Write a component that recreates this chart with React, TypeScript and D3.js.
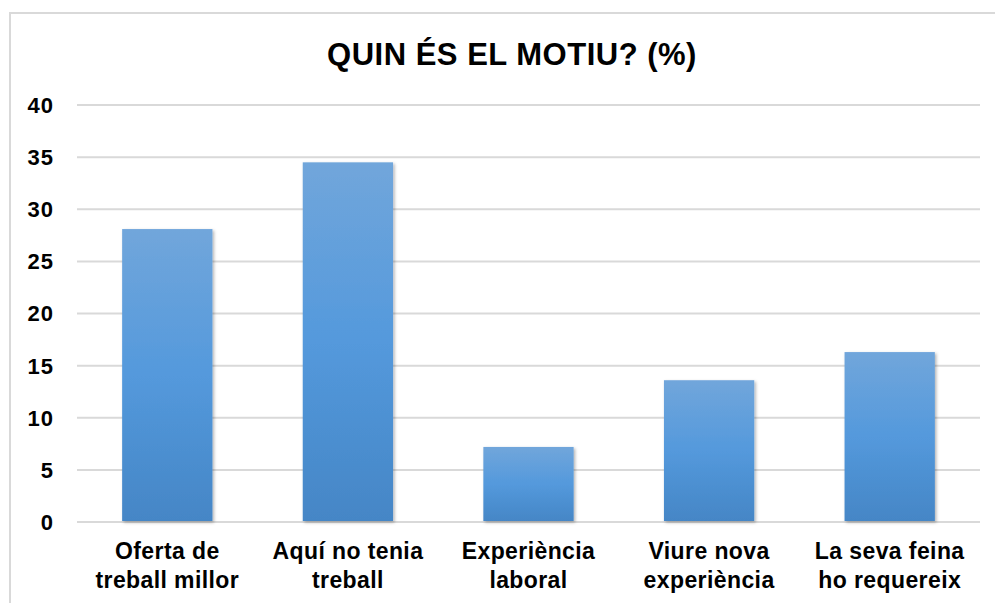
import React, { useEffect, useRef } from "react";
import * as d3 from "d3";

const categories = [
  ["Oferta de", "treball millor"],
  ["Aquí no tenia", "treball"],
  ["Experiència", "laboral"],
  ["Viure nova", "experiència"],
  ["La seva feina", "ho requereix"],
];
const values = [28.1, 34.5, 7.2, 13.6, 16.3];
const yTicks = [0, 5, 10, 15, 20, 25, 30, 35, 40];
const title = "QUIN ÉS EL MOTIU? (%)";

const W = 995;
const H = 603;

const App = () => {
  const ref = useRef<SVGSVGElement | null>(null);

  useEffect(() => {
    const svg = d3.select(ref.current);
    svg.selectAll("*").remove();

    const margin = { top: 105, right: 15, bottom: 81, left: 77 };
    const innerW = W - margin.left - margin.right;
    const innerH = H - margin.top - margin.bottom;
    const font = "'Liberation Sans', Arial, sans-serif";

    const defs = svg.append("defs");
    const grad = defs
      .append("linearGradient")
      .attr("id", "barGrad")
      .attr("x1", 0)
      .attr("y1", 0)
      .attr("x2", 0)
      .attr("y2", 1);
    grad.append("stop").attr("offset", "0%").attr("stop-color", "#71a6db");
    grad.append("stop").attr("offset", "50%").attr("stop-color", "#5499dc");
    grad.append("stop").attr("offset", "100%").attr("stop-color", "#4586c6");

    const shadow = defs
      .append("filter")
      .attr("id", "barShadow")
      .attr("x", "-10%")
      .attr("y", "-10%")
      .attr("width", "130%")
      .attr("height", "130%");
    shadow
      .append("feDropShadow")
      .attr("dx", 1.5)
      .attr("dy", 1.5)
      .attr("stdDeviation", 1.8)
      .attr("flood-color", "#000")
      .attr("flood-opacity", 0.3);

    // chart frame
    svg
      .append("rect")
      .attr("x", 10)
      .attr("y", 13)
      .attr("width", W + 20)
      .attr("height", H + 20)
      .attr("fill", "#fff")
      .attr("stroke", "#d9d9d9")
      .attr("stroke-width", 2);

    svg
      .append("text")
      .attr("x", 512)
      .attr("y", 65)
      .attr("text-anchor", "middle")
      .style("font-family", font)
      .style("font-weight", "bold")
      .style("font-size", "31px")
      .style("letter-spacing", "0.5px")
      .style("fill", "#000")
      .text(title);

    const g = svg
      .append("g")
      .attr("transform", `translate(${margin.left},${margin.top})`);

    const x = d3
      .scaleBand()
      .domain(categories.map((_, i) => String(i)))
      .range([0, innerW])
      .paddingInner(0.5)
      .paddingOuter(0.25);

    const y = d3.scaleLinear().domain([0, 40]).range([innerH, 0]);

    // gridlines
    g.selectAll(".grid")
      .data(yTicks)
      .enter()
      .append("line")
      .attr("x1", 0)
      .attr("x2", innerW)
      .attr("y1", (d) => y(d))
      .attr("y2", (d) => y(d))
      .attr("stroke", "#d9d9d9")
      .attr("stroke-width", 2);

    // y labels
    g.selectAll(".ytick")
      .data(yTicks)
      .enter()
      .append("text")
      .attr("x", -23)
      .attr("y", (d) => y(d))
      .attr("dy", "0.36em")
      .attr("text-anchor", "end")
      .style("font-family", font)
      .style("font-weight", "bold")
      .style("font-size", "22px")
      .style("letter-spacing", "1px")
      .style("fill", "#000")
      .text((d) => d);

    // bars
    g.selectAll(".bar")
      .data(values)
      .enter()
      .append("rect")
      .attr("x", (_, i) => x(String(i)) as number)
      .attr("y", (d) => y(d))
      .attr("width", x.bandwidth())
      .attr("height", (d) => innerH - y(d) - 1)
      .attr("fill", "url(#barGrad)")
      .attr("filter", "url(#barShadow)");

    // category labels
    const labels = g
      .selectAll(".xlab")
      .data(categories)
      .enter()
      .append("text")
      .attr("text-anchor", "middle")
      .style("font-family", font)
      .style("font-weight", "bold")
      .style("font-size", "23px")
      .style("letter-spacing", "0.4px")
      .style("fill", "#000");

    labels
      .selectAll("tspan")
      .data((d) => d)
      .enter()
      .append("tspan")
      .attr("x", function () {
        const parent = (this as SVGTSpanElement).parentNode as any;
        const i = categories.indexOf(d3.select(parent).datum() as string[]);
        return (x(String(i)) as number) + x.bandwidth() / 2;
      })
      .attr("y", (_, j) => innerH + 37 + j * 29)
      .text((d) => d);
  }, []);

  return (
    <svg
      ref={ref}
      width={W}
      height={H}
      style={{ position: "absolute", left: 0, top: 0, display: "block" }}
    />
  );
};

export default App;
